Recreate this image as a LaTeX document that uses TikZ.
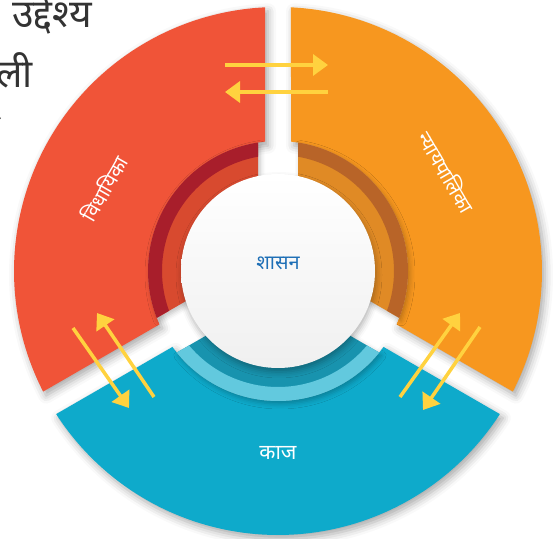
\documentclass[tikz,border=0pt]{standalone}
\usepackage{fontspec}
\newfontfamily\deva[Script=Devanagari]{Noto Sans}
\usetikzlibrary{arrows.meta, positioning, shadows.blur}
\definecolor{segred}{RGB}{240,84,56}
\definecolor{segredband}{RGB}{168,30,43}
\definecolor{segredin}{RGB}{216,74,47}
\definecolor{segorange}{RGB}{247,151,31}
\definecolor{segorangeband}{RGB}{184,100,40}
\definecolor{segorangein}{RGB}{224,138,37}
\definecolor{segblue}{RGB}{14,170,203}
\definecolor{segblueband}{RGB}{98,201,222}
\definecolor{segbluein}{RGB}{24,147,174}
\definecolor{arrowyellow}{RGB}{255,210,63}
\definecolor{hubblue}{RGB}{30,111,182}
\definecolor{pagetext}{RGB}{51,51,51}

\begin{document}
\begin{tikzpicture}[
    x=1pt, y=1pt,
    seglabel/.style={text=white, font=\deva\fontsize{20}{22}\selectfont},
    pagelabel/.style={text=pagetext, font=\deva\fontsize{39}{42}\selectfont, inner sep=0pt},
    arrow/.style={-{Triangle[length=15pt,width=21pt]}, line width=3.5pt, arrowyellow},
    segshadow/.style={blur shadow={shadow xshift=3pt, shadow yshift=-4pt, shadow blur radius=8pt, shadow opacity=35}},
    bandshadow/.style={blur shadow={shadow xshift=2pt, shadow yshift=-3pt, shadow blur radius=5pt, shadow opacity=25}},
    hub/.style={circle, minimum size=194pt, inner sep=0pt, top color=white, bottom color=black!6,
        blur shadow={shadow xshift=1pt, shadow yshift=-4pt, shadow blur radius=6pt, shadow opacity=30}}
]
\useasboundingbox (0,0) rectangle (554,538);

% page text behind the diagram
\node[pagelabel, anchor=base west] (word1) at (12,510) {उद्देश्य};
\node[pagelabel, anchor=base west] (word2) at (-4,450) {ली};
\node[pagelabel, font=\deva\fontsize{14}{16}\selectfont, anchor=base west] (word3) at (-2,418) {.};

\begin{scope}[shift={(278,267)}]
% red segment (left)
\path[fill=segred, segshadow] ({90+asin(13/264)}:264) arc[start angle={90+asin(13/264)}, end angle={210-asin(13/264)}, radius=264]
    -- ({210-asin(13/130)}:130) arc[start angle={210-asin(13/130)}, end angle={90+asin(13/130)}, radius=130] -- cycle;
% orange segment (right)
\path[fill=segorange, segshadow] ({-30+asin(13/264)}:264) arc[start angle={-30+asin(13/264)}, end angle={90-asin(13/264)}, radius=264]
    -- ({90-asin(13/130)}:130) arc[start angle={90-asin(13/130)}, end angle={-30+asin(13/130)}, radius=130] -- cycle;
% blue segment (bottom)
\path[fill=segblue, segshadow] ({210+asin(13/264)}:264) arc[start angle={210+asin(13/264)}, end angle={330-asin(13/264)}, radius=264]
    -- ({330-asin(13/130)}:130) arc[start angle={330-asin(13/130)}, end angle={210+asin(13/130)}, radius=130] -- cycle;

% inner rings
\path[fill=segredin, bandshadow] ({90+asin(20/130)}:130) arc[start angle={90+asin(20/130)}, end angle={210-asin(20/130)}, radius=130]
    -- ({210-asin(20/85)}:85) arc[start angle={210-asin(20/85)}, end angle={90+asin(20/85)}, radius=85] -- cycle;
\path[fill=segredband] ({90+asin(20/130)}:130) arc[start angle={90+asin(20/130)}, end angle={210-asin(20/130)}, radius=130]
    -- ({210-asin(20/116)}:116) arc[start angle={210-asin(20/116)}, end angle={90+asin(20/116)}, radius=116] -- cycle;
\path[fill=segorangein, bandshadow] ({-30+asin(20/130)}:130) arc[start angle={-30+asin(20/130)}, end angle={90-asin(20/130)}, radius=130]
    -- ({90-asin(20/85)}:85) arc[start angle={90-asin(20/85)}, end angle={-30+asin(20/85)}, radius=85] -- cycle;
\path[fill=segorangeband] ({-30+asin(20/130)}:130) arc[start angle={-30+asin(20/130)}, end angle={90-asin(20/130)}, radius=130]
    -- ({90-asin(20/116)}:116) arc[start angle={90-asin(20/116)}, end angle={-30+asin(20/116)}, radius=116] -- cycle;
\path[fill=segbluein, bandshadow] ({210+asin(20/130)}:130) arc[start angle={210+asin(20/130)}, end angle={330-asin(20/130)}, radius=130]
    -- ({330-asin(20/85)}:85) arc[start angle={330-asin(20/85)}, end angle={210+asin(20/85)}, radius=85] -- cycle;
\path[fill=segblueband] ({210+asin(20/130)}:130) arc[start angle={210+asin(20/130)}, end angle={330-asin(20/130)}, radius=130]
    -- ({330-asin(20/116)}:116) arc[start angle={330-asin(20/116)}, end angle={210+asin(20/116)}, radius=116] -- cycle;

\node[hub] (hub) at (0,0) {};
\end{scope}

% labels
\node[text=hubblue, font=\deva\fontsize{20}{22}\selectfont] (govlabel) at (278,275) {शासन};
\node[seglabel, rotate=60] (leglabel) at (104,350) {विधायिका};
\node[seglabel, rotate=-60] (judlabel) at (447,366) {न्यायपालिका};
\node[seglabel, font=\deva\fontsize{21}{23}\selectfont] (exelabel) at (278,85) {काज};

% arrows between the segments
\coordinate (topa) at (225,473);
\coordinate (topb) at (328,473);
\coordinate (topc) at (328,446);
\coordinate (topd) at (225,446);
\coordinate (lefta) at (73,210);
\coordinate (leftb) at (129,130);
\coordinate (leftc) at (154,141);
\coordinate (leftd) at (97,225);
\coordinate (righta) at (400,141);
\coordinate (rightb) at (460,225);
\coordinate (rightc) at (480,211);
\coordinate (rightd) at (423,128);

\draw[arrow] (topa) -- (topb);
\draw[arrow] (topc) -- (topd);
\draw[arrow] (lefta) -- (leftb);
\draw[arrow] (leftc) -- (leftd);
\draw[arrow] (righta) -- (rightb);
\draw[arrow] (rightc) -- (rightd);
\end{tikzpicture}
\end{document}
